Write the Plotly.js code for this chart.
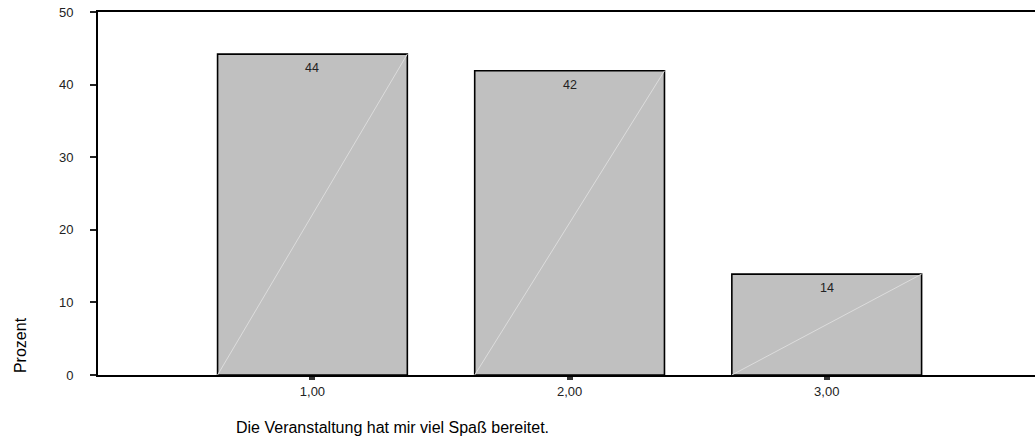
<!DOCTYPE html>
<html>
<head>
<meta charset="utf-8">
<script src="https://cdn.plot.ly/plotly-3.0.1.min.js"></script>
<style>
html,body{margin:0;padding:0;background:#fff;overflow:hidden;}
#chart{width:1035px;height:444px;}
</style>
</head>
<body>
<div id="chart"></div>
<script>
const categories = [1, 2, 3];
const tickLabels = ["1,00", "2,00", "3,00"];
const percentValues = [44.2, 41.9, 13.9];
const barLabels = ["44", "42", "14"];
const xTitle = "Die Veranstaltung hat mir viel Spaß bereitet.";
const yTitle = "Prozent";

const barWidth = 0.738;
const font = "Liberation Sans, Arial, sans-serif";

const traces = [{
  type: "bar",
  x: categories,
  y: percentValues,
  width: barWidth,
  marker: {color: "#c0c0c0", line: {color: "#000", width: 1.6}},
  hoverinfo: "skip"
}];

// faint diagonal line inside each bar (bottom-left to top-right)
categories.forEach((c, i) => {
  traces.push({
    type: "scatter",
    mode: "lines",
    x: [c - barWidth / 2, c + barWidth / 2],
    y: [0, percentValues[i]],
    line: {color: "#dcdcdc", width: 1},
    hoverinfo: "skip",
    showlegend: false
  });
});

const annotations = categories.map((c, i) => ({
  x: c, y: percentValues[i], xref: "x", yref: "y",
  text: barLabels[i], showarrow: false,
  yanchor: "top", yshift: -5,
  font: {family: font, size: 12.5, color: "#222"}
}));

annotations.push({
  xref: "paper", yref: "paper", x: 0.145, y: -0.146,
  xanchor: "left", yanchor: "middle",
  text: xTitle, showarrow: false,
  font: {family: font, size: 16, color: "#000"}
});
annotations.push({
  xref: "paper", yref: "paper", x: -0.0832, y: 0.0826,
  xanchor: "center", yanchor: "middle", textangle: -90,
  text: yTitle, showarrow: false,
  font: {family: font, size: 16, color: "#000"}
});

const layout = {
  width: 1035, height: 444,
  margin: {l: 98, r: 0, t: 12, b: 69, pad: 0},
  paper_bgcolor: "#fff", plot_bgcolor: "#fff",
  showlegend: false,
  bargap: 0,
  xaxis: {
    range: [0.166, 3.81],
    tickmode: "array", tickvals: categories, ticktext: tickLabels,
    showline: true, linecolor: "#000", linewidth: 2, mirror: true,
    ticks: "outside", ticklen: 3, tickwidth: 6, tickcolor: "#333",
    showgrid: false, zeroline: false,
    tickfont: {family: font, size: 13, color: "#222"}
  },
  yaxis: {
    range: [0, 50],
    tickvals: [0, 10, 20, 30, 40, 50],
    showline: true, linecolor: "#000", linewidth: 2,
    ticks: "outside", ticklen: 6, tickwidth: 2, tickcolor: "#222",
    ticklabelstandoff: 14,
    showgrid: false, zeroline: false,
    tickfont: {family: font, size: 13, color: "#222"}
  },
  annotations: annotations
};

Plotly.newPlot("chart", traces, layout, {staticPlot: true, displayModeBar: false});
</script>
</body>
</html>
